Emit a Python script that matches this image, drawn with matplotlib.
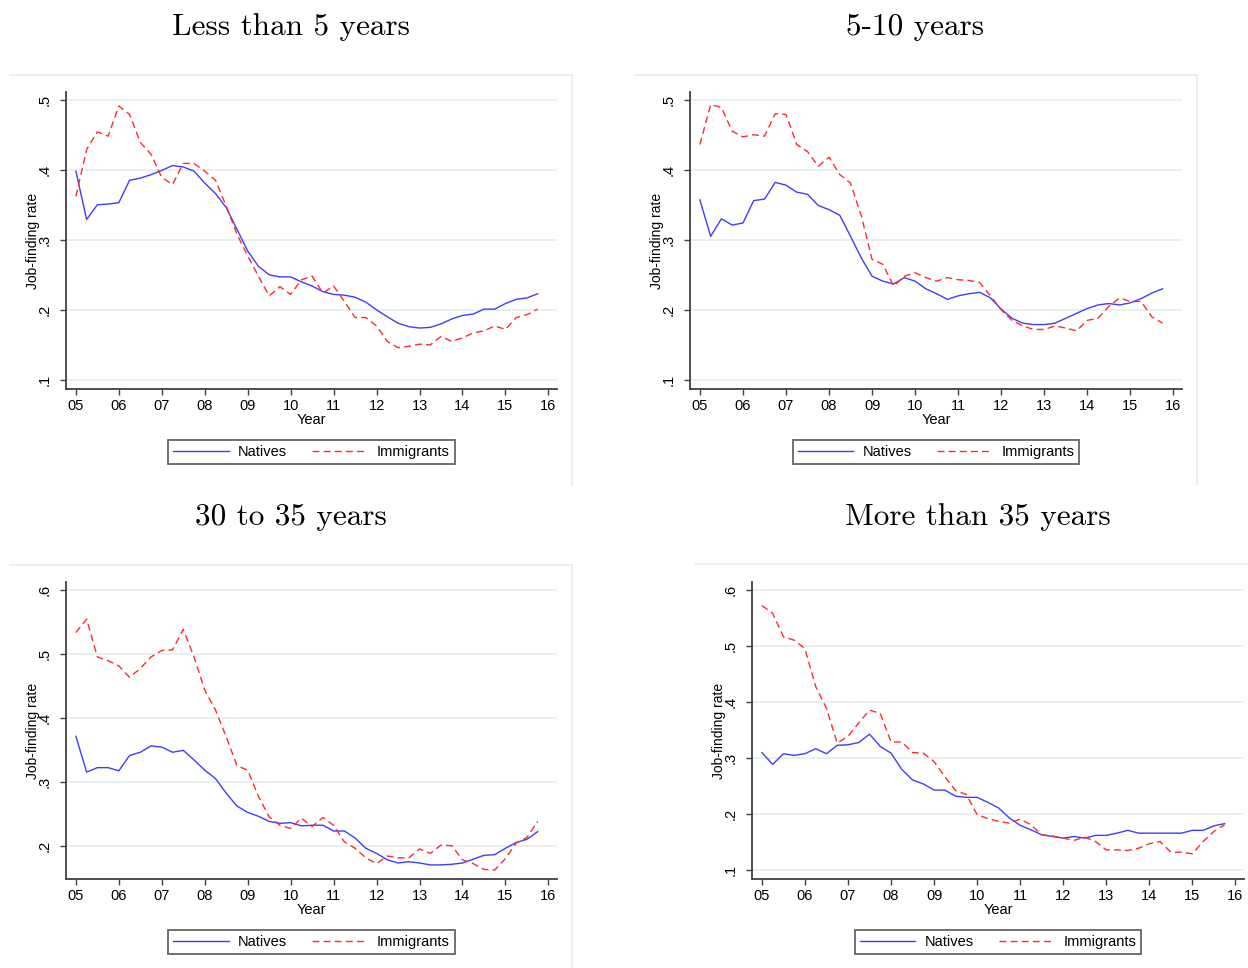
import numpy as np
import matplotlib
matplotlib.use("Agg")
import matplotlib.pyplot as plt
from matplotlib.lines import Line2D

# quarterly observations, 2005q1 - 2015q4 (x axis in two-digit years)
quarters = np.arange(5, 16, 0.25)
year_ticks = list(range(5, 17))
year_labels = ["%02d" % y for y in year_ticks]

titles = ["Less than 5 years", "5-10 years", "30 to 35 years", "More than 35 years"]

natives_lt5 = [0.398, 0.329, 0.350, 0.351, 0.353, 0.385, 0.388, 0.393, 0.399, 0.406, 0.404,
               0.398, 0.381, 0.366, 0.346, 0.315, 0.284, 0.262, 0.250, 0.247, 0.247, 0.240,
               0.234, 0.226, 0.222, 0.221, 0.218, 0.211, 0.200, 0.190, 0.181, 0.176, 0.174,
               0.175, 0.180, 0.187, 0.192, 0.194, 0.201, 0.201, 0.209, 0.215, 0.217, 0.223]
immig_lt5 = [0.362, 0.429, 0.454, 0.448, 0.491, 0.479, 0.439, 0.422, 0.389, 0.379, 0.409,
             0.409, 0.398, 0.385, 0.348, 0.308, 0.277, 0.248, 0.220, 0.233, 0.222, 0.243,
             0.248, 0.224, 0.234, 0.212, 0.189, 0.189, 0.177, 0.155, 0.146, 0.148, 0.151,
             0.150, 0.162, 0.155, 0.160, 0.167, 0.170, 0.177, 0.172, 0.189, 0.193, 0.201]

natives_5_10 = [0.357, 0.305, 0.330, 0.321, 0.324, 0.356, 0.358, 0.382, 0.378, 0.368, 0.365,
                0.349, 0.343, 0.335, 0.305, 0.274, 0.248, 0.241, 0.237, 0.246, 0.241, 0.230,
                0.223, 0.215, 0.220, 0.223, 0.225, 0.217, 0.201, 0.188, 0.181, 0.179, 0.179,
                0.181, 0.188, 0.195, 0.202, 0.207, 0.209, 0.207, 0.210, 0.216, 0.224, 0.230]
immig_5_10 = [0.436, 0.493, 0.489, 0.455, 0.447, 0.450, 0.448, 0.480, 0.479, 0.436, 0.426,
              0.405, 0.418, 0.393, 0.381, 0.334, 0.272, 0.265, 0.234, 0.248, 0.253, 0.246,
              0.241, 0.246, 0.243, 0.242, 0.239, 0.220, 0.200, 0.185, 0.177, 0.172, 0.172,
              0.177, 0.174, 0.170, 0.185, 0.188, 0.205, 0.217, 0.212, 0.212, 0.190, 0.181]

natives_30_35 = [0.372, 0.316, 0.323, 0.323, 0.318, 0.342, 0.347, 0.357, 0.355, 0.347, 0.350,
                 0.335, 0.319, 0.306, 0.283, 0.263, 0.253, 0.247, 0.239, 0.236, 0.237, 0.232,
                 0.233, 0.233, 0.224, 0.224, 0.213, 0.197, 0.189, 0.179, 0.174, 0.176, 0.174,
                 0.171, 0.171, 0.172, 0.174, 0.180, 0.186, 0.187, 0.197, 0.206, 0.211, 0.223]
immig_30_35 = [0.534, 0.555, 0.496, 0.490, 0.482, 0.464, 0.478, 0.496, 0.506, 0.507, 0.539,
               0.496, 0.444, 0.413, 0.371, 0.326, 0.319, 0.278, 0.246, 0.233, 0.228, 0.244,
               0.231, 0.245, 0.233, 0.207, 0.197, 0.182, 0.173, 0.185, 0.182, 0.182, 0.196,
               0.189, 0.202, 0.201, 0.179, 0.173, 0.164, 0.163, 0.181, 0.205, 0.214, 0.239]

natives_gt35 = [0.310, 0.289, 0.308, 0.305, 0.308, 0.317, 0.308, 0.323, 0.324, 0.328, 0.343,
                0.321, 0.309, 0.280, 0.261, 0.254, 0.243, 0.243, 0.232, 0.230, 0.230, 0.221,
                0.211, 0.193, 0.180, 0.172, 0.163, 0.160, 0.157, 0.160, 0.157, 0.162, 0.162,
                0.166, 0.171, 0.166, 0.166, 0.166, 0.166, 0.166, 0.171, 0.171, 0.179, 0.183]
immig_gt35 = [0.573, 0.559, 0.517, 0.511, 0.496, 0.428, 0.389, 0.327, 0.339, 0.363, 0.386,
              0.380, 0.329, 0.329, 0.310, 0.309, 0.294, 0.267, 0.242, 0.235, 0.199, 0.192,
              0.187, 0.184, 0.191, 0.181, 0.163, 0.161, 0.157, 0.153, 0.159, 0.151, 0.136,
              0.136, 0.135, 0.139, 0.147, 0.151, 0.132, 0.132, 0.129, 0.151, 0.169, 0.181]

natives = [natives_lt5, natives_5_10, natives_30_35, natives_gt35]
immigrants = [immig_lt5, immig_5_10, immig_30_35, immig_gt35]

yticks = [[0.1, 0.2, 0.3, 0.4, 0.5],
          [0.1, 0.2, 0.3, 0.4, 0.5],
          [0.2, 0.3, 0.4, 0.5, 0.6],
          [0.1, 0.2, 0.3, 0.4, 0.5, 0.6]]
ylims = [(0.087, 0.511), (0.087, 0.511), (0.149, 0.613), (0.084, 0.615)]

W, H = 1248, 968
# axes boxes in pixels: left, top, right, bottom
boxes = [(66, 92, 557, 389), (690, 92, 1182, 389),
         (66, 582, 557, 879), (752, 582, 1244, 879)]
# light border of each graph region: top y, x0, x1, right-edge bottom (None = no right edge)
regions = [(75, 10, 572, 485), (75, 635, 1197, 485),
           (565, 10, 572, 968), (564, 695, 1248, None)]
title_x = [291, 915, 291, 978]

BLUE = "#3d3dff"
RED = "#ff2b2b"
AXC = "#404040"
GRID = "#e4edf0"
sans = ["Liberation Sans", "DejaVu Sans"]

fig = plt.figure(figsize=(W / 100, H / 100), dpi=100)


def fx(px):
    return px / W


def fy(py):
    return 1 - py / H


for i in range(4):
    l, t, r, b = boxes[i]
    ax = fig.add_axes([fx(l), fy(b), fx(r - l), (b - t) / H])
    ax.plot(quarters, natives[i], color=BLUE, lw=1.0, label="Natives")
    ax.plot(quarters, immigrants[i], color=RED, lw=1.0, dashes=(5, 3), label="Immigrants")

    ax.set_xlim(4.77, 16.2)
    ax.set_ylim(*ylims[i])
    ax.set_xticks(year_ticks)
    ax.set_xticklabels(year_labels, fontsize=10.5, family=sans)
    ax.set_yticks(yticks[i])
    ax.set_yticklabels(["." + ("%.1f" % v)[-1] for v in yticks[i]],
                       fontsize=10.5, family=sans, rotation=90, va="center")
    ax.tick_params(axis="both", direction="out", length=4, width=1, color=AXC, pad=3)
    ax.tick_params(axis="y", pad=6)
    ax.grid(axis="y", color=GRID, lw=1.2)
    ax.set_axisbelow(True)
    for s in ["top", "right"]:
        ax.spines[s].set_visible(False)
    for s in ["left", "bottom"]:
        ax.spines[s].set_color(AXC)
        ax.spines[s].set_linewidth(1.3)

    ax.set_xlabel("Year", fontsize=10.5, family=sans)
    ax.xaxis.set_label_coords(0.5, -31 / (b - t), transform=ax.transAxes)
    ax.xaxis.label.set_va("center")
    ax.set_ylabel("Job-finding rate", fontsize=10, family=sans)
    ax.yaxis.set_label_coords(-33 / (r - l), 0.5, transform=ax.transAxes)
    ax.yaxis.label.set_va("center")

    fig.text(fx(title_x[i]), fy(t - 65), titles[i], family="cmr10", fontsize=22.5,
             ha="center", va="center")

    leg = ax.legend(loc="center", bbox_to_anchor=(fx((l + r) / 2), fy(b + 63)),
                    bbox_transform=fig.transFigure, ncol=2, frameon=True, fancybox=False,
                    handlelength=3.8, handletextpad=0.65, columnspacing=1.7,
                    borderpad=0.35, prop={"family": sans, "size": 10.5})
    leg.get_frame().set_edgecolor(AXC)
    leg.get_frame().set_linewidth(1.3)

    yt, x0, x1, yb = regions[i]
    fig.add_artist(Line2D([fx(x0), fx(x1)], [fy(yt), fy(yt)], color=GRID, lw=1.2))
    if yb is not None:
        fig.add_artist(Line2D([fx(x1), fx(x1)], [fy(yt), fy(yb)], color=GRID, lw=1.2))

fig.savefig("out.png", dpi=100, facecolor="white")
